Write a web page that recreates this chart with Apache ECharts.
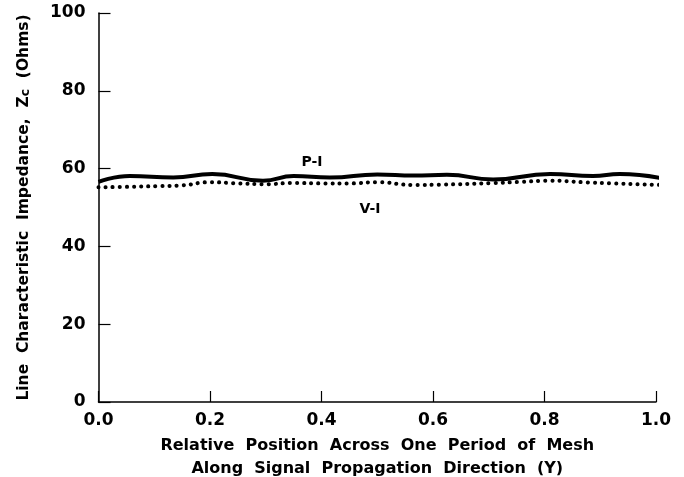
<!DOCTYPE html>
<html>
<head>
<meta charset="utf-8">
<script src="https://cdn.jsdelivr.net/npm/echarts@6/dist/echarts.min.js"></script>
<style>
  html, body { margin: 0; padding: 0; background: #fff; }
  #chart { width: 684px; height: 477px; }
</style>
</head>
<body>
<div id="chart"></div>
<script>
// P-I curve (solid)
var piX = [0, 0.056, 0.134, 0.204, 0.295, 0.35, 0.415, 0.50, 0.565, 0.625, 0.708, 0.81, 0.887, 0.935, 1.01];
var piY = [56.6, 58.1, 57.7, 58.6, 56.9, 58.1, 57.7, 58.5, 58.2, 58.4, 57.2, 58.6, 58.1, 58.6, 57.5];

// V-I curve (dotted)
var viX = [0, 0.05, 0.105, 0.15, 0.2, 0.25, 0.3, 0.35, 0.4, 0.45, 0.5, 0.565, 0.62, 0.708, 0.76, 0.81, 0.87, 0.92, 1.01];
var viY = [55.2, 55.3, 55.5, 55.7, 56.5, 56.2, 56.0, 56.3, 56.2, 56.2, 56.5, 55.8, 55.9, 56.3, 56.6, 56.9, 56.5, 56.2, 55.8];

var yTicks = [0, 20, 40, 60, 80, 100];
var xTicks = [0, 0.2, 0.4, 0.6, 0.8, 1.0];

var labels = [
  { name: 'P-I', coord: [0.383, 61.5] },
  { name: 'V-I', coord: [0.487, 49.5] }
];

function pairs(xs, ys) {
  var out = [];
  for (var i = 0; i < xs.length; i++) out.push([xs[i], ys[i]]);
  return out;
}

var font = 'DejaVu Sans';

var option = {
  backgroundColor: '#fff',
  animation: false,
  grid: { left: 98.5, right: 28, top: 13, bottom: 75, outerBoundsMode: 'none', containLabel: false },
  xAxis: {
    type: 'value',
    min: xTicks[0],
    max: xTicks[xTicks.length - 1],
    interval: 0.2,
    name: 'Relative  Position  Across  One  Period  of  Mesh\nAlong  Signal  Propagation  Direction  (Y)',
    nameLocation: 'middle',
    nameGap: 31,
    nameTextStyle: { color: '#000', fontFamily: font, fontWeight: 'bold', fontSize: 16, lineHeight: 23 },
    axisLine: { lineStyle: { color: '#000', width: 1.5 } },
    axisTick: { inside: true, length: 11, lineStyle: { color: '#000', width: 1.2 } },
    axisLabel: {
      color: '#000', fontFamily: font, fontWeight: 'bold', fontSize: 17, margin: 10,
      formatter: function (v) { return v.toFixed(1); }
    },
    splitLine: { show: false }
  },
  yAxis: {
    type: 'value',
    min: yTicks[0],
    max: yTicks[yTicks.length - 1],
    interval: 20,
    name: 'Line  Characteristic  Impedance,  Z{s|c}  (Ohms)',
    nameLocation: 'middle',
    nameGap: 66,
    nameTextStyle: {
      color: '#000', fontFamily: font, fontWeight: 'bold', fontSize: 15.5,
      rich: { s: { fontFamily: font, fontWeight: 'bold', fontSize: 12.5, verticalAlign: 'bottom', padding: [4, 0, 0, 0] } }
    },
    axisLine: { show: true, lineStyle: { color: '#000', width: 1.5 } },
    axisTick: { show: true, inside: true, length: 12, lineStyle: { color: '#000', width: 1.2 } },
    axisLabel: { color: '#000', fontFamily: font, fontWeight: 'bold', fontSize: 17, margin: 13 },
    splitLine: { show: false }
  },
  series: [
    {
      name: 'P-I',
      type: 'line',
      data: pairs(piX, piY),
      smooth: 0.5,
      clip: false,
      showSymbol: false,
      lineStyle: { color: '#000', width: 4 },
      markPoint: {
        symbol: 'circle',
        symbolSize: 0,
        label: { show: true, formatter: '{b}', color: '#000', fontFamily: font, fontWeight: 'bold', fontSize: 14 },
        data: [{ name: labels[0].name, coord: labels[0].coord }]
      }
    },
    {
      name: 'V-I',
      type: 'line',
      data: pairs(viX, viY),
      smooth: 0.5,
      clip: false,
      showSymbol: false,
      lineStyle: { color: '#000', width: 4, type: [0.1, 7], cap: 'round' },
      markPoint: {
        symbol: 'circle',
        symbolSize: 0,
        label: { show: true, formatter: '{b}', color: '#000', fontFamily: font, fontWeight: 'bold', fontSize: 14 },
        data: [{ name: labels[1].name, coord: labels[1].coord }]
      }
    }
  ]
};

var myChart = echarts.init(document.getElementById('chart'));
myChart.setOption(option);
</script>
</body>
</html>
